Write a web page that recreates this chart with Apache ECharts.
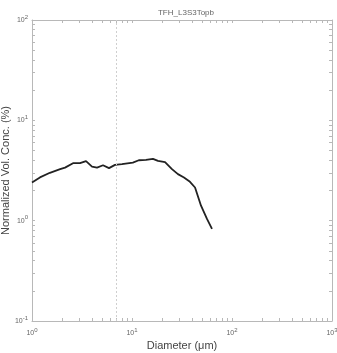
<!DOCTYPE html>
<html>
<head>
<meta charset="utf-8">
<script src="https://cdn.jsdelivr.net/npm/echarts@6/dist/echarts.min.js"></script>
<style>
  html, body { margin: 0; padding: 0; background: #fff; }
  #chart { width: 337px; height: 353px; }
</style>
</head>
<body>
<div id="chart"></div>
<script>
// diameter (um) and normalized volume concentration (%)
const diameters = [1.0, 1.2, 1.51, 1.91, 2.14, 2.57, 3.02, 3.47, 3.98, 4.47, 5.13, 5.89, 6.76, 7.94,
  10.2, 11.7, 13.8, 16.2, 18.2, 21.4, 25.1, 28.8, 33.1, 38.0, 42.7, 49.0, 56.2, 63.1];
const volConc = [2.4, 2.7, 3.0, 3.26, 3.38, 3.74, 3.74, 3.92, 3.46, 3.38, 3.57, 3.34, 3.6, 3.66,
  3.79, 4.0, 4.03, 4.13, 3.94, 3.83, 3.26, 2.91, 2.69, 2.44, 2.14, 1.41, 1.04, 0.83];
const xDecades = [0, 1, 2, 3];     // 10^0 .. 10^3
const yDecades = [-1, 0, 1, 2];    // 10^-1 .. 10^2
const markerDiameter = 6.9;

const lg = Math.log10;
const minorTicks = (decades) => {
  const out = [];
  for (let i = 0; i < decades.length - 1; i++) {
    for (let k = 1; k < 10; k++) out.push(decades[i] + lg(k));
  }
  out.push(decades[decades.length - 1]);
  return out;
};

const chart = echarts.init(document.getElementById('chart'));
const frame = { show: true, onZero: false, lineStyle: { color: '#b8b8b8', width: 1 } };
const tickStyle = { color: '#b8b8b8', width: 1 };
const decadeLabel = (v) => '10{s|' + Math.round(v) + '}';
const labelRich = { s: { fontSize: 6, color: '#666', padding: [0, 0, 6, 0] } };

chart.setOption({
  animation: false,
  title: {
    text: 'TFH_L3S3Topb',
    left: 181, top: 4, textAlign: 'center',
    textStyle: { fontSize: 8, fontWeight: 'normal', color: '#666', fontFamily: 'Liberation Sans' }
  },
  grid: { left: 32, right: 5, top: 20, bottom: 32, containLabel: false, outerBoundsMode: 'none' },
  xAxis: [{
    type: 'value', min: 0, max: 3, interval: 1, position: 'bottom',
    name: 'Diameter (\u03bcm)', nameLocation: 'middle', nameGap: 19, nameMoveOverlap: false,
    nameTextStyle: { fontSize: 11, color: '#444', fontFamily: 'Liberation Sans' },
    axisLine: frame,
    axisTick: { show: true, inside: true, length: 3, lineStyle: tickStyle, customValues: minorTicks(xDecades) },
    axisLabel: { customValues: xDecades, formatter: decadeLabel, fontSize: 7, color: '#666', margin: 6,
      fontFamily: 'Liberation Sans', rich: labelRich },
    splitLine: { show: false }
  }, {
    type: 'value', min: 0, max: 3, position: 'top',
    axisLine: frame,
    axisTick: { show: true, inside: true, length: 3, lineStyle: tickStyle, customValues: minorTicks(xDecades) },
    axisLabel: { show: false },
    splitLine: { show: false }
  }],
  yAxis: [{
    type: 'value', min: -1, max: 2, interval: 1, position: 'left',
    name: 'Normalized Vol. Conc. (%)', nameLocation: 'middle', nameGap: 21, nameRotate: 90,
    nameMoveOverlap: false,
    nameTextStyle: { fontSize: 11, color: '#444', fontFamily: 'Liberation Sans' },
    axisLine: frame,
    axisTick: { show: true, inside: true, length: 3, lineStyle: tickStyle, customValues: minorTicks(yDecades) },
    axisLabel: { customValues: yDecades, formatter: decadeLabel, fontSize: 7, color: '#666', margin: 4,
      fontFamily: 'Liberation Sans', rich: labelRich },
    splitLine: { show: false }
  }, {
    type: 'value', min: -1, max: 2, position: 'right',
    axisLine: frame,
    axisTick: { show: true, inside: true, length: 3, lineStyle: tickStyle, customValues: minorTicks(yDecades) },
    axisLabel: { show: false },
    splitLine: { show: false }
  }],
  series: [{
    type: 'line',
    xAxisIndex: 0, yAxisIndex: 0,
    data: diameters.map((d, i) => [lg(d), lg(volConc[i])]),
    showSymbol: false,
    lineStyle: { color: '#222', width: 1.8 },
    markLine: {
      silent: true, symbol: 'none', label: { show: false },
      lineStyle: { color: '#cfcfcf', type: [2, 2], width: 1 },
      data: [{ xAxis: lg(markerDiameter) }]
    }
  }]
});
</script>
</body>
</html>
